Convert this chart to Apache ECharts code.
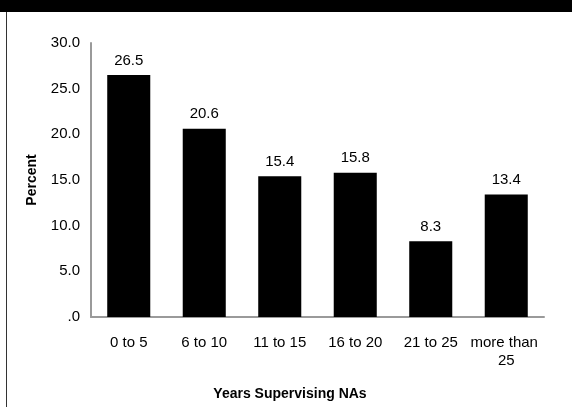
<!DOCTYPE html>
<html>
<head>
<meta charset="utf-8">
<style>
  html, body { margin: 0; padding: 0; background: #fff; }
  #chart { width: 572px; height: 407px; }
</style>
<script src="https://cdn.jsdelivr.net/npm/echarts@6/dist/echarts.min.js"></script>
</head>
<body>
<div id="chart"></div>
<script>
// Years spent supervising nursing assistants, share of respondents (%)
const categories = ['0 to 5', '6 to 10', '11 to 15', '16 to 20', '21 to 25', 'more than 25'];
const percentValues = [26.5, 20.6, 15.4, 15.8, 8.3, 13.4];
const yTicks = { min: 0, max: 30, interval: 5 };

const FONT = '"Liberation Sans", Arial, sans-serif';

const chart = echarts.init(document.getElementById('chart'), null, { renderer: 'canvas' });

chart.setOption({
  animation: false,
  backgroundColor: '#ffffff',
  textStyle: { fontFamily: FONT },
  grid: { left: 91, right: 28, top: 43, bottom: 90, containLabel: false },
  graphic: [
    // heading band across the top
    { type: 'rect', left: 0, top: 0, shape: { x: 0, y: 0, width: 572, height: 12 }, style: { fill: '#000' }, silent: true },
    // left frame rule
    { type: 'line', shape: { x1: 6.5, y1: 12, x2: 6.5, y2: 407 }, style: { stroke: '#333', lineWidth: 1 }, silent: true },
    // x-axis title
    { type: 'text', x: 290, y: 394, style: { text: 'Years Supervising NAs', font: 'bold 14px ' + FONT, fill: '#000', textAlign: 'center', textVerticalAlign: 'middle' }, silent: true }
  ],
  xAxis: {
    type: 'category',
    data: categories,
    axisLine: { lineStyle: { color: '#9a9a9a', width: 2 } },
    axisTick: { show: false },
    axisLabel: {
      color: '#000', fontSize: 15, fontFamily: FONT, margin: 17,
      interval: 0, width: 74, overflow: 'break', lineHeight: 18
    }
  },
  yAxis: {
    type: 'value',
    min: yTicks.min, max: yTicks.max, interval: yTicks.interval,
    name: 'Percent',
    nameLocation: 'middle',
    nameGap: 52,
    nameTextStyle: { color: '#000', fontSize: 14, fontWeight: 'bold', fontFamily: FONT },
    axisLine: { show: true, lineStyle: { color: '#9a9a9a', width: 2 } },
    axisTick: { show: false },
    splitLine: { show: false },
    axisLabel: {
      color: '#000', fontSize: 15, fontFamily: FONT, margin: 11,
      formatter: v => (v === 0 ? '.0' : v.toFixed(1))
    }
  },
  series: [{
    type: 'bar',
    data: percentValues,
    barWidth: '57%',
    itemStyle: { color: '#000' },
    label: {
      show: true, position: 'top', distance: 7,
      color: '#000', fontSize: 15, fontFamily: FONT,
      formatter: p => p.value.toFixed(1)
    }
  }]
});
</script>
</body>
</html>
